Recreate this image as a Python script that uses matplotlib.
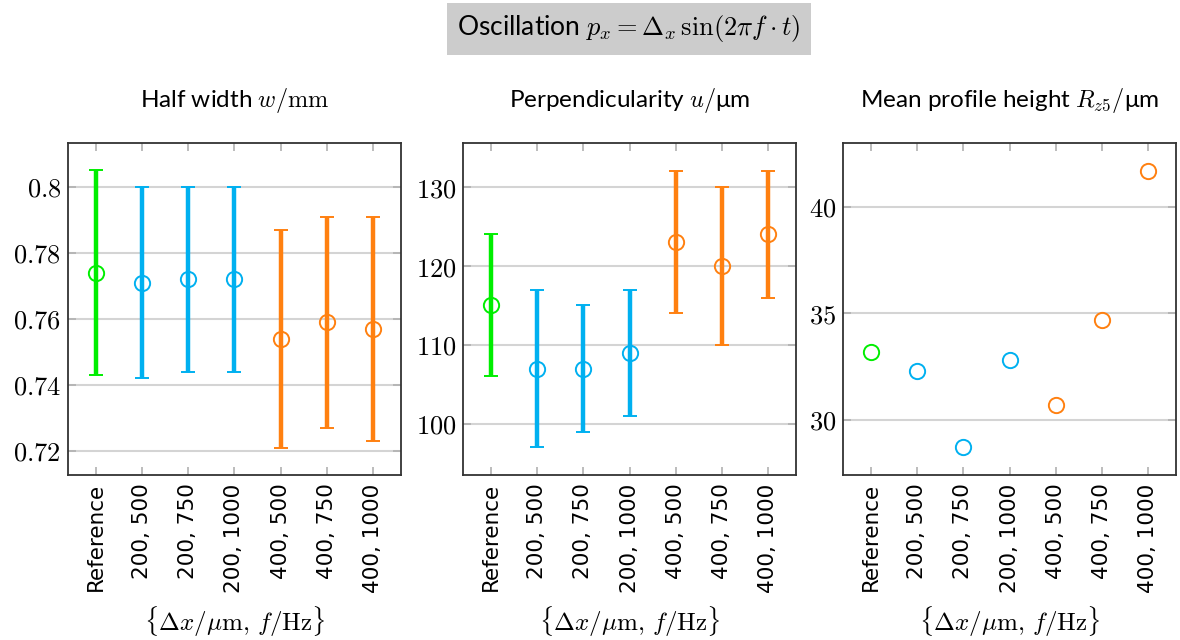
import matplotlib
matplotlib.use("Agg")
import matplotlib.pyplot as plt
import numpy as np

plt.rcParams['mathtext.fontset'] = 'cm'
plt.rcParams['font.family'] = ['Lato', 'DejaVu Sans']

categories = ["Reference", "200, 500", "200, 750", "200, 1000", "400, 500", "400, 750", "400, 1000"]
group_colors = ["#00ee00", "#00b0f0", "#00b0f0", "#00b0f0", "#ff8010", "#ff8010", "#ff8010"]

width_mean = [0.774, 0.771, 0.772, 0.772, 0.754, 0.759, 0.757]
width_upper = [0.805, 0.800, 0.800, 0.800, 0.787, 0.791, 0.791]
width_lower = [0.743, 0.742, 0.744, 0.744, 0.721, 0.727, 0.723]

perp_mean = [115, 107, 107, 109, 123, 120, 124]
perp_upper = [124, 117, 115, 117, 132, 130, 132]
perp_lower = [106, 97, 99, 101, 114, 110, 116]

rz_mean = [33.2, 32.3, 28.7, 32.8, 30.7, 34.7, 41.7]

titles = ["Half width $w/\\mathrm{mm}$", "Perpendicularity $u/$μm", "Mean profile height $R_{z5}/$μm"]
xlabel = r"$\{\Delta x/\mu\mathrm{m},\, f/\mathrm{Hz}\}$"

fig = plt.figure(figsize=(11.8, 6.4), dpi=100)
lefts = [68/1180, 463/1180, 843/1180]
bottom = 1 - 475/640
w = 333/1180
h = 332/640
axes = [fig.add_axes([l, bottom, w, h]) for l in lefts]

x = np.arange(len(categories))

def style(ax, ylim, yticks, yticklabels):
    ax.set_xlim(-0.6, len(categories) - 0.4)
    ax.set_ylim(*ylim)
    ax.set_yticks(yticks)
    ax.set_yticklabels(yticklabels, fontsize=19)
    ax.set_xticks(x)
    ax.set_xticklabels(categories, rotation=90, fontsize=15.5, fontfamily='DejaVu Sans')
    ax.grid(axis='y', color='#d4d4d4', lw=1.5, zorder=0)
    ax.tick_params(axis='both', direction='in', length=6, width=1.2, color='#b0b0b0',
                   top=True, right=True)
    ax.tick_params(axis='y', pad=5)
    ax.tick_params(axis='x', pad=6)
    for s in ax.spines.values():
        s.set_color('#333333')
        s.set_linewidth(1.3)
    ax.set_xlabel(xlabel, fontsize=18, va='center')
    ax.xaxis.set_label_coords(0.5, -(622 - 475) / 332)
    ax.set_axisbelow(True)

def mathlabels(vals, fmt):
    return ["$" + fmt(v) + "$" for v in vals]

# Panel 1
ax = axes[0]
for i in x:
    m = width_mean[i]
    ax.errorbar(i, m, yerr=[[m - width_lower[i]], [width_upper[i] - m]], fmt='o',
                color=group_colors[i], mfc='none', ms=11, mew=1.4, elinewidth=3.2,
                capsize=5, capthick=2, zorder=3)
style(ax, (0.7127, 0.8133), [0.72, 0.74, 0.76, 0.78, 0.8],
      mathlabels([0.72, 0.74, 0.76, 0.78, 0.8], lambda v: ("%g" % v)))

# Panel 2
ax = axes[1]
for i in x:
    m = perp_mean[i]
    ax.errorbar(i, m, yerr=[[m - perp_lower[i]], [perp_upper[i] - m]], fmt='o',
                color=group_colors[i], mfc='none', ms=11, mew=1.4, elinewidth=3.2,
                capsize=5, capthick=2, zorder=3)
style(ax, (93.5, 135.6), [100, 110, 120, 130],
      mathlabels([100, 110, 120, 130], lambda v: "%d" % v))

# Panel 3
ax = axes[2]
for i in x:
    ax.plot(i, rz_mean[i], 'o', color=group_colors[i], mfc='none', ms=11, mew=1.4, zorder=3)
style(ax, (27.4, 43.0), [30, 35, 40], mathlabels([30, 35, 40], lambda v: "%d" % v))

for ax, t in zip(axes, titles):
    ax.set_title(t, fontsize=17.5, pad=26)

fig.text(629/1180, 1 - 29/640, r"Oscillation $p_x = \Delta_x\,\sin(2\pi f \cdot t)$",
         ha='center', va='center', fontsize=19,
         bbox=dict(boxstyle='square,pad=0.4', facecolor='#cccccc', edgecolor='none'))

fig.savefig("out.png", dpi=100)
